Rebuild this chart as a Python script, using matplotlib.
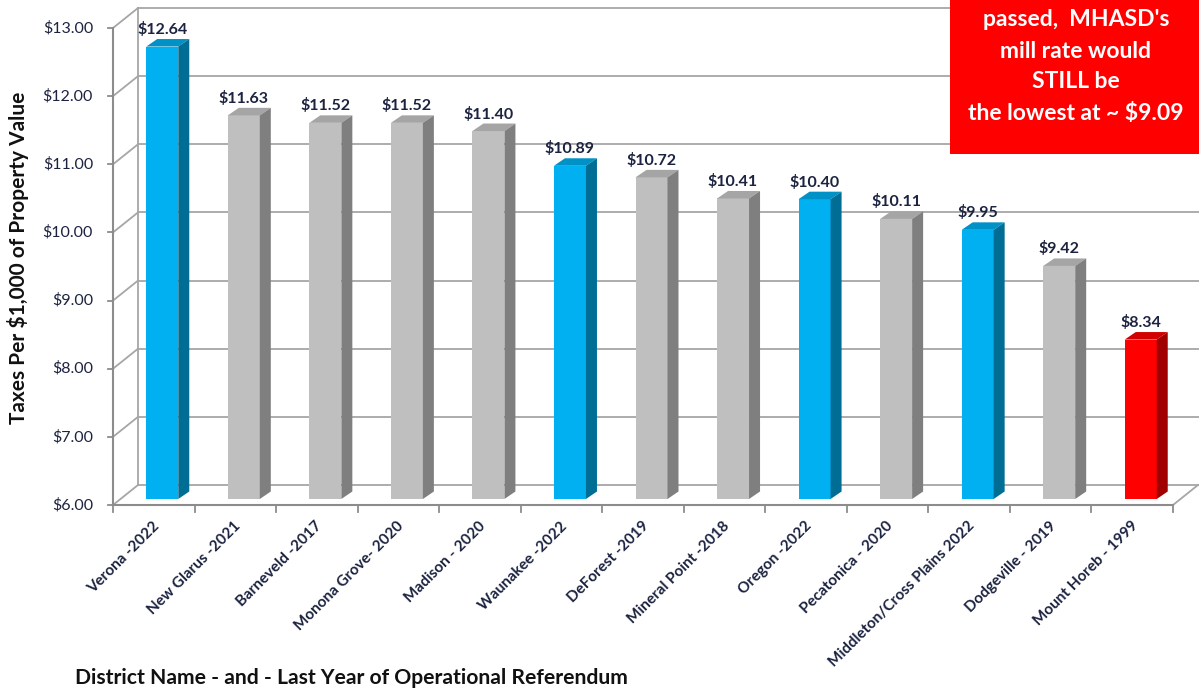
import matplotlib
matplotlib.use('Agg')
import matplotlib.pyplot as plt
from matplotlib.patches import Polygon, Rectangle

plt.rcParams['font.family'] = ['Lato', 'DejaVu Sans']

districts = ['Verona -2022', 'New Glarus -2021', 'Barneveld -2017',
             'Monona Grove- 2020', 'Madison - 2020', 'Waunakee -2022',
             'DeForest -2019', 'Mineral Point -2018', 'Oregon -2022',
             'Pecatonica - 2020', 'Middleton/Cross Plains 2022',
             'Dodgeville - 2019', 'Mount Horeb - 1999']
rates = [12.64, 11.63, 11.52, 11.52, 11.40, 10.89, 10.72,
         10.41, 10.40, 10.11, 9.95, 9.42, 8.34]
groups = ['blue', 'gray', 'gray', 'gray', 'gray', 'blue', 'gray',
          'gray', 'blue', 'gray', 'blue', 'gray', 'red']
y_ticks = [6, 7, 8, 9, 10, 11, 12, 13]
note_lines = ["passed,  MHASD's", 'mill rate would', 'STILL be',
              'the lowest at ~ $9.09']

# front, top, side
palette = {
    'blue': ('#00b0f0', '#0091c6', '#006d94'),
    'gray': ('#bfbfbf', '#a5a5a5', '#7f7f7f'),
    'red': ('#ff0000', '#d20000', '#a00000'),
}
grid_c = '#a6a6a6'
text_c = '#1c2340'

fig = plt.figure(figsize=(11.99, 6.91), dpi=100)
ax = fig.add_axes([113 / 1199, 1 - 505 / 691, 1060 / 1199, 477 / 691])
ax.set_xlim(-0.5, len(rates) - 0.5)
ax.set_ylim(6, 13)
ax.axis('off')

# pixel -> data scale
sx = 1060 / len(rates)
sy = 477 / 7
wx, wy = 25 / sx, 20 / sy      # depth of walls/floor
bx, by = 8.5 / sx, 6 / sy      # bar placement inside the floor
bw = 32 / sx                   # bar width
dx, dy = 11 / sx, 7.5 / sy     # bar depth
x0, x1 = -0.5, len(rates) - 0.5

# walls and floor
for y in y_ticks:
    ax.plot([x0 + wx, x1 + wx + 0.02], [y + wy, y + wy], color=grid_c, lw=1.3, clip_on=False)
    ax.plot([x0, x0 + wx], [y, y + wy], color=grid_c, lw=1.3, clip_on=False)
    ax.plot([x0, x0 - 5 / sx], [y, y], color='#8c8c8c', lw=1.3, clip_on=False)
    ax.text(x0 - 20 / sx, y, f'${y:.2f}', ha='right', va='center',
            fontsize=11.5, color=text_c)
ax.plot([x0 + wx, x0 + wx], [6 + wy, 13 + wy], color=grid_c, lw=1.3, clip_on=False)
ax.plot([x0, x0], [6, 13], color='#8c8c8c', lw=1.5, clip_on=False)
ax.plot([x0, x1], [6, 6], color='#8c8c8c', lw=1.5, clip_on=False)
ax.plot([x1, x1 + wx], [6, 6 + wy], color=grid_c, lw=1.3, clip_on=False)
for k in range(len(rates) + 1):
    ax.plot([k - 0.5, k - 0.5], [6, 6 - 7 / sy], color='#8c8c8c', lw=1.3, clip_on=False)

# 3d-looking bars
for i, (v, g) in enumerate(zip(rates, groups)):
    front, top, side = palette[g]
    l, r = i - bw / 2 + bx, i + bw / 2 + bx
    b, t = 6 + by, v + by
    ax.add_patch(Rectangle((l, b), r - l, t - b, facecolor=front, edgecolor='none', zorder=3))
    ax.add_patch(Polygon([(l, t), (r, t), (r + dx, t + dy), (l + dx, t + dy)],
                         closed=True, facecolor=top, edgecolor='none', zorder=3))
    ax.add_patch(Polygon([(r, b), (r + dx, b + dy), (r + dx, t + dy), (r, t)],
                         closed=True, facecolor=side, edgecolor='none', zorder=3))
    ax.annotate(f'${v:.2f}', (i + bx, t + dy), xytext=(0, 2), textcoords='offset pixels',
                ha='center', va='bottom', fontsize=11.5, fontweight='bold', color=text_c)
    ax.text(i - 0.02, 6 - 14 / sy, districts[i], rotation=45, rotation_mode='anchor',
            ha='right', va='top', fontsize=11, fontweight='bold', color=text_c)

fig.text(18 / 1199, 1 - 258 / 691, 'Taxes Per $1,000 of Property Value', rotation=90,
         ha='center', va='center', fontsize=15, fontweight='bold', color='#111111')
fig.text(75 / 1199, 1 - 678 / 691, 'District Name - and - Last Year of Operational Referendum',
         ha='left', va='center', fontsize=15.2, fontweight='bold', color='#111111')

# red note box
fig.patches.append(Rectangle((950 / 1199, 1 - 154 / 691), 1 - 950 / 1199, 154 / 691,
                             transform=fig.transFigure, facecolor='#ff0000',
                             edgecolor='none', zorder=5))
for n, line in enumerate(note_lines):
    fig.text(1076 / 1199, 1 - (20 + 31 * n) / 691, line, ha='center', va='center',
             fontsize=16.5, fontweight='bold', color='white', zorder=6)

fig.savefig('out.png', dpi=100)
